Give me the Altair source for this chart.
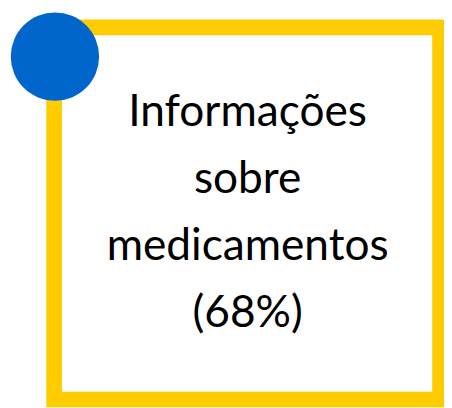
import altair as alt
import pandas as pd

# data
label_lines = ["Informações", "sobre", "medicamentos"]
percent_values = [68]

text = "\n".join(label_lines + [f"({percent_values[0]}%)"])
df = pd.DataFrame({"label": [text]})

W, H = 444, 400
YELLOW = "#FFCC00"
BLUE = "#0066CC"

base = alt.Chart(df)

frame = base.mark_rect(fill=None, stroke=YELLOW, strokeWidth=16, strokeJoin="miter").encode(
    x=alt.value(47), x2=alt.value(440), y=alt.value(16), y2=alt.value(395)
)

circle = base.mark_point(filled=True, shape="circle", color=BLUE, opacity=1, size=8100, strokeWidth=0).encode(
    x=alt.value(47.8), y=alt.value(45.8)
)

label = base.mark_text(
    font="Lato", fontSize=45, color="#000000", align="center", baseline="alphabetic",
    lineBreak="\n", lineHeight=68
).encode(
    x=alt.value(244), y=alt.value(117), text="label:N"
)

chart = alt.layer(frame, circle, label).properties(
    width=W, height=H, autosize=alt.AutoSizeParams(type="none"), padding=0
).configure_view(stroke=None)

chart.save("out.html", embed_options={"renderer": "svg", "actions": False})
